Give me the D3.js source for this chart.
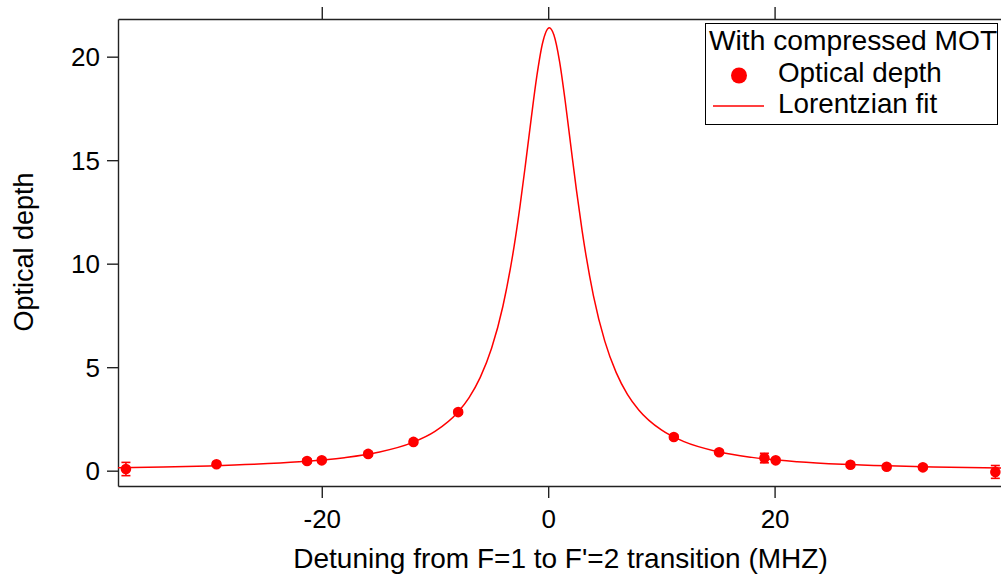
<!DOCTYPE html>
<html>
<head>
<meta charset="utf-8">
<script src="https://cdn.jsdelivr.net/npm/d3@7"></script>
<style>
  html, body { margin: 0; padding: 0; background: #fff; }
  svg { display: block; font-family: "Liberation Sans", Arial, sans-serif; }
</style>
</head>
<body>
<div id="chart"></div>
<script>
// ---- Data ----
const detuning = [-37.3, -29.3, -21.3, -20.0, -15.9, -11.9, -7.95, 11.1, 15.1, 19.1, 20.1, 26.7, 29.9, 33.1, 39.5];
const opticalDepth = [0.08, 0.31, 0.47, 0.50, 0.81, 1.39, 2.83, 1.63, 0.89, 0.61, 0.50, 0.29, 0.19, 0.16, -0.06];
const odError = [0.32, 0.1, 0.1, 0.1, 0.1, 0.1, 0.1, 0.1, 0.1, 0.23, 0.1, 0.1, 0.1, 0.1, 0.31];

// Lorentzian fit curve
const fitX = [-38, -34, -30, -26, -22, -18, -15, -12, -10, -8, -7, -6, -5, -4, -3, -2.5, -2, -1.5, -1, -0.5, 0.1,
              0.5, 1, 1.5, 2, 2.5, 3, 4, 5, 6, 7, 8, 10, 12, 15, 18, 22, 26, 30, 34, 40];
const fitY = [0.145, 0.181, 0.232, 0.307, 0.426, 0.629, 0.892, 1.358, 1.897, 2.811, 3.52, 4.505, 5.91, 7.943, 10.87, 12.73, 14.82, 17.01, 19.07, 20.65, 21.4,
              21.06, 19.79, 17.87, 15.69, 13.54, 11.58, 8.449, 6.257, 4.747, 3.691, 2.936, 1.967, 1.401, 0.915, 0.643, 0.434, 0.311, 0.235, 0.183, 0.133];

const xTicks = [-20, 0, 20];
const yTicks = [0, 5, 10, 15, 20];
const legendTitle = "With compressed MOT";
const legendLabels = ["Optical depth", "Lorentzian fit"];

const xTitle = "Detuning from F=1 to F'=2 transition (MHZ)";
const yTitle = "Optical depth";

// ---- Layout ----
const W = 1001, H = 575;
const plot = {left: 118, right: 1001, top: 19, bottom: 486};
const RED = "#ff0000";
const AXIS = "#222";

const svg = d3.select("#chart").append("svg")
    .attr("width", W)
    .attr("height", H);

const x = d3.scaleLinear().domain([-38, 40]).range([plot.left, plot.right]);
const y = d3.scaleLinear().domain([-0.74, 21.82]).range([plot.bottom, plot.top]);

// plain hyphen for negatives, like the original
const fmt = d => String(d);

// axes
const xAxis = svg.append("g")
    .attr("transform", `translate(0,${plot.bottom})`)
    .call(d3.axisBottom(x).tickValues(xTicks).tickFormat(fmt).tickSize(12).tickPadding(5).tickSizeOuter(0));
const xAxisTop = svg.append("g")
    .attr("transform", `translate(0,${plot.top})`)
    .call(d3.axisTop(x).tickValues(xTicks).tickSize(12).tickFormat("").tickSizeOuter(0));
const yAxis = svg.append("g")
    .attr("transform", `translate(${plot.left},0)`)
    .call(d3.axisLeft(y).tickValues(yTicks).tickFormat(fmt).tickSize(11).tickPadding(7).tickSizeOuter(0));

[xAxis, xAxisTop, yAxis].forEach(g => {
    g.select(".domain").attr("stroke", AXIS).attr("stroke-width", 1.4);
    g.selectAll(".tick line").attr("stroke", AXIS).attr("stroke-width", 1.4);
    g.selectAll(".tick text")
        .attr("fill", "#000")
        .style("font-size", "26px")
        .style("font-family", "'Liberation Sans', Arial, sans-serif");
});
xAxis.selectAll(".tick text").attr("dy", "0.95em");
yAxis.selectAll(".tick text").attr("dy", "0.35em");

// axis titles
svg.append("text")
    .attr("x", (plot.left + plot.right) / 2 + 1)
    .attr("y", 568)
    .attr("text-anchor", "middle")
    .style("font-size", "28px")
    .text(xTitle);

svg.append("text")
    .attr("transform", `translate(33,${252}) rotate(-90)`)
    .attr("text-anchor", "middle")
    .style("font-size", "27px")
    .text(yTitle);

// fit line
const fitData = fitX.map((d, i) => ({x: d, y: fitY[i]}));
const line = d3.line()
    .x(d => x(d.x))
    .y(d => y(d.y))
    .curve(d3.curveMonotoneX);

svg.append("path")
    .datum(fitData)
    .attr("fill", "none")
    .attr("stroke", RED)
    .attr("stroke-width", 1.5)
    .attr("d", line);

// data points with error bars
const pts = detuning.map((d, i) => ({x: d, y: opticalDepth[i], e: odError[i]}));

const err = svg.append("g").selectAll("g")
    .data(pts)
    .join("g")
    .attr("stroke", RED)
    .attr("stroke-width", 1.6);

err.append("line")
    .attr("x1", d => x(d.x)).attr("x2", d => x(d.x))
    .attr("y1", d => y(d.y - d.e)).attr("y2", d => y(d.y + d.e));
err.append("line")
    .attr("x1", d => x(d.x) - 4.5).attr("x2", d => x(d.x) + 4.5)
    .attr("y1", d => y(d.y - d.e)).attr("y2", d => y(d.y - d.e));
err.append("line")
    .attr("x1", d => x(d.x) - 4.5).attr("x2", d => x(d.x) + 4.5)
    .attr("y1", d => y(d.y + d.e)).attr("y2", d => y(d.y + d.e));

svg.append("g").selectAll("circle")
    .data(pts)
    .join("circle")
    .attr("cx", d => x(d.x))
    .attr("cy", d => y(d.y))
    .attr("r", 5.3)
    .attr("fill", RED);

// legend
const legend = svg.append("g");
legend.append("rect")
    .attr("x", 705.5).attr("y", 23.5)
    .attr("width", 292).attr("height", 101)
    .attr("fill", "#fff")
    .attr("stroke", "#000")
    .attr("stroke-width", 1);
legend.append("text")
    .attr("x", 709).attr("y", 50)
    .style("font-size", "28.2px")
    .text(legendTitle);

legendLabels.forEach((label, i) => {
    const ty = 82 + i * 31;
    legend.append("text")
        .attr("x", 778).attr("y", ty)
        .style("font-size", "27.8px")
        .text(label);
});
legend.append("circle")
    .attr("cx", 739).attr("cy", 75.5).attr("r", 8)
    .attr("fill", RED);
legend.append("line")
    .attr("x1", 713).attr("x2", 764)
    .attr("y1", 106).attr("y2", 106)
    .attr("stroke", RED).attr("stroke-width", 1.5);
</script>
</body>
</html>
